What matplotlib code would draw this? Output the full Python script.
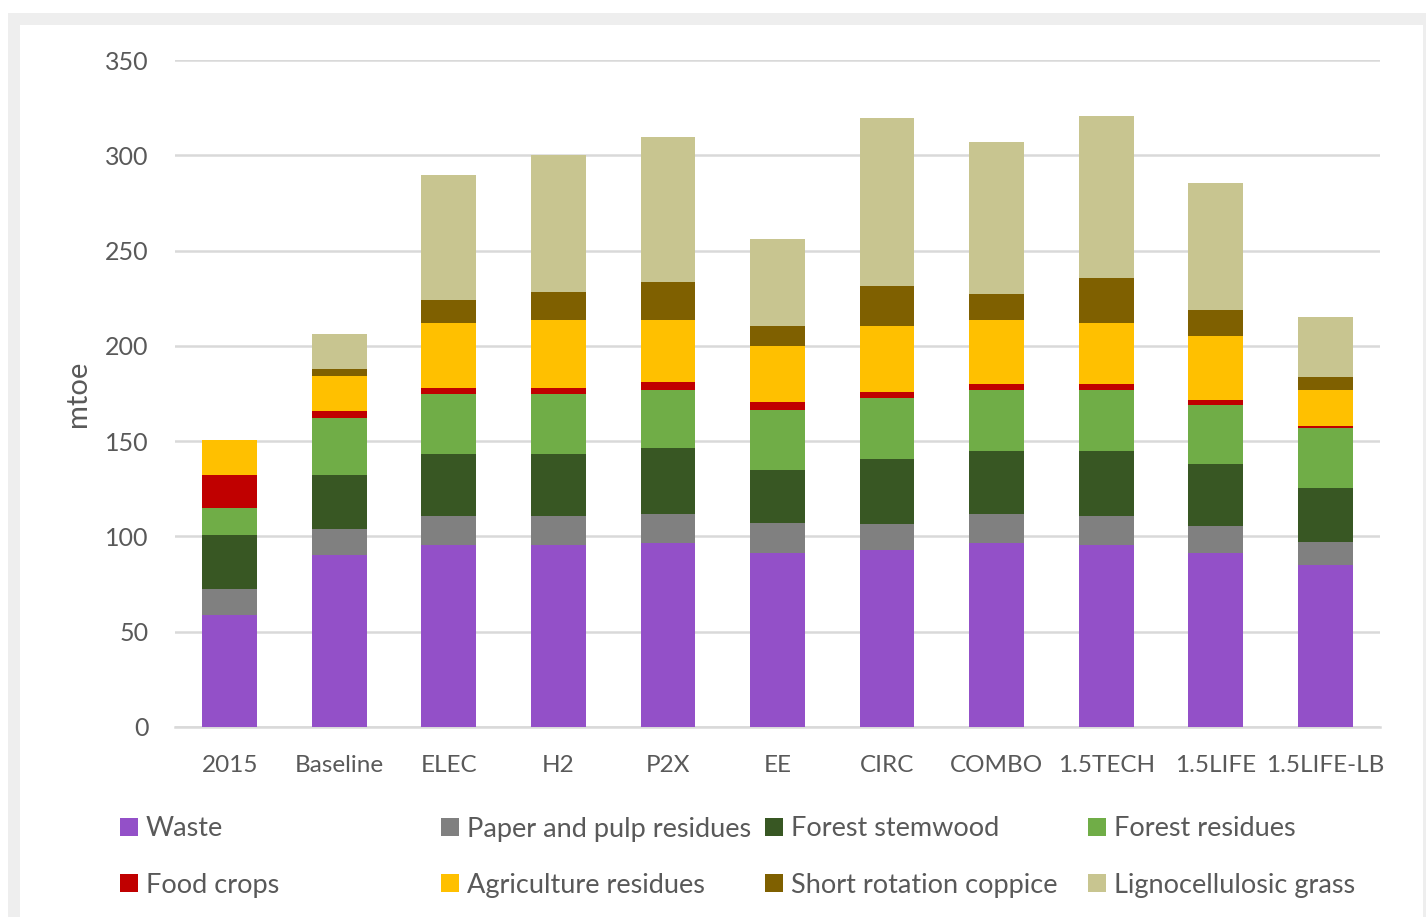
import matplotlib
matplotlib.use('Agg')
import numpy as np
import matplotlib.pyplot as plt
from matplotlib.patches import Rectangle

# data (mtoe)
scenarios = ["2015", "Baseline", "ELEC", "H2", "P2X", "EE", "CIRC", "COMBO",
             "1.5TECH", "1.5LIFE", "1.5LIFE-LB"]
waste = [59, 90, 95.5, 95.5, 96.5, 91.5, 93, 96.5, 95.5, 91.5, 85]
paper_pulp = [13.5, 14, 15, 15, 15.5, 15.5, 13.5, 15.5, 15, 14, 12]
stemwood = [28.5, 28, 33, 33, 34.5, 28, 34, 33, 34.5, 32.5, 28.5]
forest_residues = [14, 30, 31.5, 31.5, 30.5, 31.5, 32, 32, 32, 31, 31.5]
food_crops = [17, 4, 3, 3, 4, 4, 3.5, 3, 3, 2.5, 1]
agri_residues = [18.5, 18, 34, 35.5, 32.5, 29.5, 34.5, 33.5, 32, 33.5, 19]
src = [0, 4, 12, 14.5, 20, 10.5, 21, 13.5, 23.5, 14, 6.5]
grass = [0, 18, 65.5, 72, 76, 45.5, 88, 80, 85, 66.5, 31.5]

series_names = ["Waste", "Paper and pulp residues", "Forest stemwood", "Forest residues",
                "Food crops", "Agriculture residues", "Short rotation coppice",
                "Lignocellulosic grass"]
series_vals = [waste, paper_pulp, stemwood, forest_residues, food_crops,
               agri_residues, src, grass]
series_colors = ["#9350C8", "#808080", "#385723", "#70AD47", "#C00000",
                 "#FFC000", "#7F6000", "#C8C590"]

W, H = 1426, 917
TXT = "#595959"
GRID = "#d9d9d9"
FONT = "Lato"

fig = plt.figure(figsize=(W / 100, H / 100), dpi=100, facecolor="white")

# light grey frame like the screenshot
fig.patches.append(Rectangle((8 / W, 0), 1, 1 - 13 / H, transform=fig.transFigure,
                             facecolor="#eeeeee", edgecolor="none", zorder=-10))
fig.patches.append(Rectangle((20 / W, 0), (1423 - 20) / W, 1 - 25 / H, transform=fig.transFigure,
                             facecolor="white", edgecolor="none", zorder=-9))

ax = fig.add_axes([175 / W, (H - 727) / H, 1205 / W, 667 / H])
x = np.arange(len(scenarios))
bottom = np.zeros(len(scenarios))
bars = []
for name, vals, col in zip(series_names, series_vals, series_colors):
    v = np.array(vals, dtype=float)
    b = ax.bar(x, v, width=0.5, bottom=bottom, color=col, label=name, zorder=3)
    bars.append(b)
    bottom += v

ax.set_xlim(-0.5, len(scenarios) - 0.5)
ax.set_ylim(0, 350)
ax.set_yticks(np.arange(0, 351, 50))
ax.set_xticks(x)
ax.set_xticklabels(scenarios)
ax.grid(axis="y", color=GRID, linewidth=1.8, zorder=0)
for s in ["top", "right", "left"]:
    ax.spines[s].set_visible(False)
ax.spines["bottom"].set_color(GRID)
ax.spines["bottom"].set_linewidth(1.8)
ax.tick_params(axis="y", length=0, colors=TXT, labelsize=18, pad=19)
ax.tick_params(axis="x", length=0, colors=TXT, labelsize=17.5, pad=20)
for lab in ax.get_xticklabels() + ax.get_yticklabels():
    lab.set_fontfamily(FONT)

ax.set_ylabel("mtoe", color=TXT, fontsize=21, fontfamily=FONT, va="center")
ax.yaxis.set_label_coords(-(175 - 78) / 1205, 0.5)

# legend: Excel-style 2 rows x 4 columns
col_x = [120, 441, 765, 1088]
row_y = [829, 885]
for i, b in enumerate(bars):
    cx = col_x[i % 4] / W
    cy = 1 - row_y[i // 4] / H
    fig.legend(handles=[b], labels=[series_names[i]], loc="center left",
               bbox_to_anchor=(cx, cy), frameon=False, borderpad=0, borderaxespad=0,
               handlelength=0.65, handleheight=0.65, handletextpad=0.3,
               prop={"family": FONT, "size": 19.5}, labelcolor=TXT)

fig.savefig("out.png", dpi=100, facecolor="white")
